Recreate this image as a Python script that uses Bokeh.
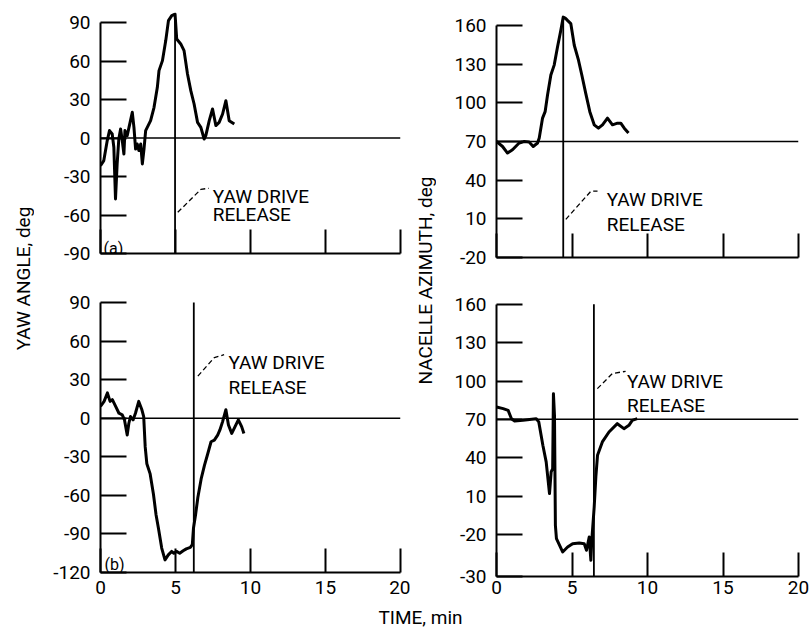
from bokeh.plotting import figure
from bokeh.models import Range1d, FixedTicker, Span
from bokeh.layouts import row, column
from bokeh.core.properties import value
from bokeh.embed import file_html
from bokeh.resources import INLINE
import math

FONT = "Roboto"

# ---------------- data ----------------
time_ticks = [0, 5, 10, 15, 20]
time_labels = ["0", "5", "10", "15", "20"]

# (a) yaw angle, deg
t_a_yaw = [0, 0.22, 0.45, 0.60, 0.78, 0.89, 1.00, 1.11, 1.22, 1.34, 1.45, 1.56, 1.63,
           1.78, 1.90, 2.12, 2.23, 2.34, 2.45, 2.56, 2.68, 2.79, 2.90, 3.01, 3.34, 3.57,
           3.79, 3.90, 4.13, 4.35, 4.53, 4.75, 4.97, 5.08, 5.35, 5.57, 5.80, 6.02, 6.24,
           6.47, 6.69, 6.91, 7.02, 7.25, 7.47, 7.69, 7.91, 8.14, 8.36, 8.58, 8.92]
yaw_a = [-21.5, -17.6, -2.0, 5.8, 3.1, -7.2, -47.5, -20.2, -0.8, 7.0, -2.0, -12.5, 5.8,
         1.9, 8.3, 20.0, 8.3, -8.6, -4.7, -9.8, -4.7, -20.2, -8.6, 5.8, 13.5, 23.9,
         39.5, 52.5, 60.3, 75.9, 91.5, 95.4, 96.6, 77.2, 73.3, 68.1, 49.9, 36.9, 26.5,
         12.2, 8.3, -0.8, 1.9, 13.5, 22.6, 9.7, 12.2, 18.7, 29.1, 13.5, 10.9]

# (a) nacelle azimuth, deg
t_a_az = [0, 0.40, 0.73, 1.06, 1.50, 1.83, 2.16, 2.43, 2.72, 2.83, 3.05, 3.22, 3.38, 3.60,
          3.82, 4.04, 4.26, 4.42, 4.55, 4.70, 4.92, 5.15, 5.43, 5.65, 5.91, 6.18, 6.47,
          6.75, 7.02, 7.35, 7.68, 8.01, 8.23, 8.46, 8.74]
az_a = [70, 66.1, 61.0, 63.6, 68.8, 70, 69.5, 66.1, 68.8, 72.6, 88.1, 93.1, 106, 121.5,
        129.2, 143.3, 156.2, 166.4, 165.7, 163.9, 161.4, 144.6, 133, 121.5, 107.3, 93.1,
        82.9, 80.3, 82.9, 88.1, 82.9, 84.2, 84.2, 80.3, 76.5]

# (b) yaw angle, deg
t_b_yaw = [0, 0.24, 0.46, 0.64, 0.79, 1.01, 1.23, 1.45, 1.60, 1.78, 1.89, 2.00, 2.17,
           2.33, 2.55, 2.76, 2.88, 2.98, 3.09, 3.31, 3.53, 3.70, 3.86, 4.08, 4.30, 4.52,
           4.74, 4.89, 5.07, 5.28, 5.51, 5.72, 5.99, 6.12, 6.20, 6.34, 6.49, 6.71, 6.93,
           7.15, 7.37, 7.59, 7.81, 7.96, 8.14, 8.36, 8.53, 8.75, 8.97, 9.19, 9.41, 9.56]
yaw_b = [9.2, 13.1, 19.7, 13.1, 14.5, 9.2, 3.9, 2.7, -1.3, -13.1, -3.9, 1.3, -1.3,
         3.9, 13.1, 6.6, 1.3, -22.3, -35.4, -43.3, -59.1, -74.8, -85.3, -101, -110.2, -106.3,
         -103.6, -105, -103.6, -105, -103.1, -101.6, -100.5, -98.4, -85.3, -74.8, -61.7, -47.2, -36.7,
         -27.6, -18.3, -17, -13.1, -9.1, -2.6, 6.6, -5.2, -11.8, -6.5, -1.3, -6.5, -11.8]

# (b) nacelle azimuth, deg
t_b_az = [0, 0.44, 0.77, 0.99, 1.20, 1.75, 2.63, 2.80, 3.07, 3.29, 3.51, 3.62, 3.72, 3.77,
          3.84, 3.90, 3.97, 4.38, 4.71, 5.04, 5.48, 5.81, 5.96, 6.14, 6.25, 6.31, 6.47,
          6.58, 6.69, 7.01, 7.45, 8.00, 8.44, 8.77, 8.99, 9.32]
az_b = [79.7, 78.4, 77.0, 70.5, 68.7, 69.2, 70.5, 68, 49.7, 36.7, 11.9, 28.8, 31.4, 90.1,
        73.1, -12.9, -23.4, -33.8, -29.9, -27.3, -26.8, -27.3, -32.5, -22.1, -40.3, -24.7, 1.4,
        25, 41.8, 52.3, 60.1, 66.6, 62.7, 65.3, 69.2, 70.5]

# axis ticks
yaw_ticks_a = [-90, -60, -30, 0, 30, 60, 90]
yaw_ticks_b = [-120, -90, -60, -30, 0, 30, 60, 90]
az_ticks_a = [-20, 10, 40, 70, 100, 130, 160]
az_ticks_b = [-53, -20, 10, 40, 70, 100, 130, 160]
az_labels_b = ["-30", "-20", "10", "40", "70", "100", "130", "160"]

# reference levels and yaw-drive release times
ref_level = {"a_yaw": 0, "a_az": 70, "b_yaw": 0, "b_az": 70}
release_time = {"a_yaw": 4.97, "a_az": 4.42, "b_yaw": 6.22, "b_az": 6.45}
release_top = {"a_yaw": 96.6, "a_az": 166.4, "b_yaw": 90, "b_az": 160}

# annotation leader lines and text positions (data units of each panel)
leader_t = {"a_yaw": [5.15, 6.69, 7.22], "a_az": [4.59, 6.25, 6.69],
            "b_yaw": [6.49, 7.59, 8.24], "b_az": [6.68, 7.67, 8.55]}
leader_v = {"a_yaw": [-57.9, -40, -39.2], "a_az": [9.6, 31.4, 31.4],
            "b_yaw": [32.8, 47.2, 49.4], "b_az": [94, 105.8, 107.6]}
note_t = {"a_yaw": 7.49, "a_az": 7.3, "b_yaw": 8.53, "b_az": 8.64}
note_v = {"a_yaw": [-45.4, -59.5], "a_az": [25, 5.7], "b_yaw": [43.3, 23.6], "b_az": [99.3, 81]}
note_lines = ["YAW DRIVE", "RELEASE"]


def panel(key, t, v, yr, yticks, ylabels, fw, fh, bl, br, bt, bb, xlabels, xstandoff, tag=None, tagpos=None):
    p = figure(frame_width=fw, frame_height=fh, x_range=Range1d(0, 20), y_range=Range1d(*yr),
               output_backend="svg", toolbar_location=None,
               min_border_left=bl, min_border_right=br, min_border_top=bt, min_border_bottom=bb)
    p.xgrid.visible = False
    p.ygrid.visible = False
    p.outline_line_color = None
    p.background_fill_color = "white"
    p.border_fill_color = "white"

    xa = p.xaxis[0]
    xa.ticker = FixedTicker(ticks=time_ticks)
    xa.bounds = (0, 20)
    xa.major_tick_in = 24
    xa.major_tick_out = 0
    xa.minor_tick_in = 0
    xa.minor_tick_out = 0
    xa.axis_line_width = 2
    xa.major_tick_line_width = 2
    xa.major_label_text_font = FONT
    xa.major_label_text_font_size = "19px"
    xa.major_label_text_color = "black"
    xa.major_label_standoff = xstandoff
    if xlabels:
        xa.major_label_overrides = {tk: lb for tk, lb in zip(time_ticks, time_labels)}
    else:
        xa.major_label_text_font_size = "0px"
        xa.major_label_text_color = None

    ya = p.yaxis[0]
    ya.ticker = FixedTicker(ticks=yticks)
    ya.bounds = (yticks[0], yticks[-1])
    ya.major_tick_in = 26
    ya.major_tick_out = 0
    ya.minor_tick_in = 0
    ya.minor_tick_out = 0
    ya.axis_line_width = 2
    ya.major_tick_line_width = 2
    ya.major_label_text_font = FONT
    ya.major_label_text_font_size = "19px"
    ya.major_label_text_color = "black"
    ya.major_label_standoff = 10
    ya.major_label_overrides = {tk: lb for tk, lb in zip(yticks, ylabels)}

    p.add_layout(Span(location=ref_level[key], dimension="width", line_color="black", line_width=1.5))
    p.segment(x0=[release_time[key]], y0=[yticks[0]], x1=[release_time[key]], y1=[release_top[key]],
              line_color="black", line_width=1.8)
    p.line(t, v, line_color="black", line_width=3, line_join="round")
    p.line(leader_t[key], leader_v[key], line_color="black", line_width=1.3, line_dash="5 3")
    p.text(x=[note_t[key]] * 2, y=note_v[key], text=note_lines, text_font=value(FONT),
           text_font_size=value("19px"), text_align="left", text_baseline="alphabetic",
           text_color="black")
    if tag:
        p.text(x=[tagpos[0]], y=[tagpos[1]], text=[tag], text_font=value(FONT),
               text_font_size=value("16px"), text_align="left", text_baseline="alphabetic",
               text_color="black")
    return p


p_tl = panel("a_yaw", t_a_yaw, yaw_a, (-90, 97.8), yaw_ticks_a, [str(v) for v in yaw_ticks_a],
             300, 241, 66, 10, 12, 37, False, 8, "(a)", (0.2, -86))
p_bl = panel("b_yaw", t_b_yaw, yaw_b, (-120, 91.6), yaw_ticks_b, [str(v) for v in yaw_ticks_b],
             300, 272, 64, 12, 10, 34, True, 8, "(b)", (0.27, -114))
p_tr = panel("a_az", t_a_az, az_a, (-20, 170), az_ticks_a, [str(v) for v in az_ticks_a],
             302, 245, 60, 12, 12, 33, False, 8)
p_br = panel("b_az", t_b_az, az_b, (-53, 163), az_ticks_b, az_labels_b,
             302, 276, 60, 12, 10, 30, True, 4)


def label_strip(w, h, x, y, txt, angle):
    f = figure(width=w, height=h, x_range=Range1d(0, w), y_range=Range1d(0, h),
               x_axis_type=None, y_axis_type=None, output_backend="svg", toolbar_location=None,
               min_border=0)
    f.outline_line_color = None
    f.xgrid.visible = False
    f.ygrid.visible = False
    f.text(x=[x], y=[y], text=[txt], angle=angle, text_font=value(FONT),
           text_font_size=value("19px"), text_align="center", text_baseline="middle",
           text_color="black")
    return f


strip_l = label_strip(34, 606, 23, 606 - 278, "YAW ANGLE, deg", math.pi / 2)
strip_r = label_strip(26, 606, 15, 606 - 280, "NACELLE AZIMUTH, deg", math.pi / 2)
strip_b = label_strip(810, 24, 420, 24 - 11, "TIME, min", 0)

layout = column(row(strip_l, column(p_tl, p_bl), strip_r, column(p_tr, p_br)), strip_b)

open("out.html", "w").write(file_html(layout, INLINE))
